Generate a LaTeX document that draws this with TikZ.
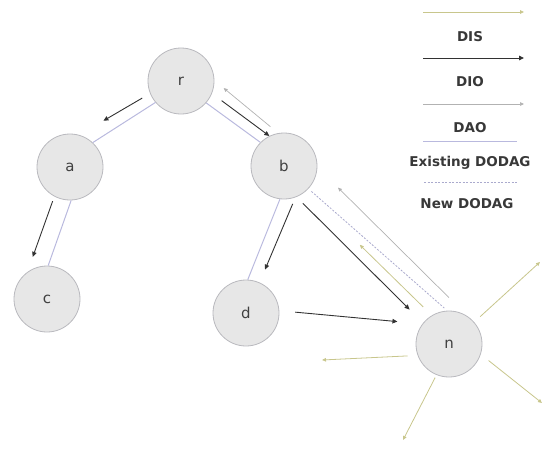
\documentclass[tikz,border=0pt]{standalone}
\usepackage{fontspec}
\setmainfont{DejaVu Sans}
\usepackage{xcolor}
\usepackage{tikz}
\usetikzlibrary{arrows.meta}
\definecolor{ndfill}{RGB}{231,231,231}
\definecolor{ndline}{RGB}{185,185,190}
\definecolor{disc}{RGB}{200,198,140}
\definecolor{dioc}{RGB}{50,50,50}
\definecolor{daoc}{RGB}{178,178,178}
\definecolor{exc}{RGB}{185,185,222}
\definecolor{newc}{RGB}{170,170,205}
\tikzset{
  nd/.style={circle,draw=ndline,fill=ndfill,line width=0.8pt,minimum size=66pt,inner sep=0pt,text=black!75,font=\fontsize{15}{18}\selectfont},
  dis/.style={draw=disc,line width=0.8pt,-{Triangle[length=4pt,width=3.5pt]}},
  dio/.style={draw=dioc,line width=0.9pt,-{Triangle[length=5pt,width=4.5pt]}},
  dao/.style={draw=daoc,line width=0.7pt,-{Triangle[length=4pt,width=3.5pt]}},
  exist/.style={draw=exc,line width=1pt},
  newd/.style={draw=newc,line width=0.8pt,dash pattern=on 2pt off 1.5pt},
  lbl/.style={text=black!78,font=\fontsize{13.5}{16}\selectfont\bfseries},
}

\begin{document}
\begin{tikzpicture}[x=1pt,y=-1pt]
  \useasboundingbox (0,0) rectangle (553,450);
  % nodes of the DODAG
  \node[nd] (r) at (181,81) {r};
  \node[nd] (a) at (70,167) {a};
  \node[nd] (b) at (284,166) {b};
  \node[nd] (c) at (47,299) {c};
  \node[nd] (d) at (246,313) {d};
  \node[nd] (n) at (449,344) {n};
  % existing DODAG
  \draw[exist] (a.47) -- (r.220);
  \draw[exist] (r.319) -- (b.135);
  \draw[exist] (a.272) -- (c.88);
  \draw[exist] (b.263) -- (d.87);
  % DIO messages
  \draw[dio,shorten <=9pt,shorten >=28pt] (r.202) -- (a.74);
  \draw[dio,shorten <=12pt] (r.338) -- (b.116);
  \draw[dio,shorten <=5pt,shorten >=16pt] (a.242) -- (c.126);
  \draw[dio,shorten <=7pt,shorten >=14pt] (b.290) -- (d.66);
  \draw[dio,shorten <=9pt,shorten >=19pt] (b.292) -- (n.141);
  \draw[dio,shorten <=16pt,shorten >=25pt] (d.4) -- (n.143);
  % DAO messages
  \draw[dao,shorten <=10pt,shorten >=12pt] (b.100) -- (r.1);
  \draw[dao,shorten <=27pt,shorten >=29pt] (n.55) -- (b.358);
  % new DODAG
  \draw[newd,shorten <=4pt,shorten >=4pt] (b.317) -- (n.93);
  % DIS messages sent by n
  \draw[dis,shorten <=12pt,shorten >=76pt] (n.121) -- (b.310);
  \coordinate (s1) at (540,262);
  \coordinate (s2) at (322,360);
  \coordinate (s3) at (542,403);
  \coordinate (s4) at (403,440);
  \foreach \ang/\tgt/\sh in {41/s1/8,200/s2/10,342/s3/10,248/s4/3}
    \draw[dis,shorten <=\sh pt] (n.\ang) -- (\tgt);
  % legend
  \foreach \y/\s in {12/dis,58/dio,104/dao}
    \draw[\s] (423,\y) -- (524,\y);
  \draw[exist] (423,141) -- (517,141);
  \draw[newd] (424,182) -- (517,182);
  \node[lbl] (ldis) at (470,37) {DIS};
  \node[lbl] (ldio) at (470,82) {DIO};
  \node[lbl] (ldao) at (470,128) {DAO};
  \node[lbl] (lold) at (470,163) {Existing DODAG};
  \node[lbl] (lnew) at (467,204) {New DODAG};
\end{tikzpicture}
\end{document}
